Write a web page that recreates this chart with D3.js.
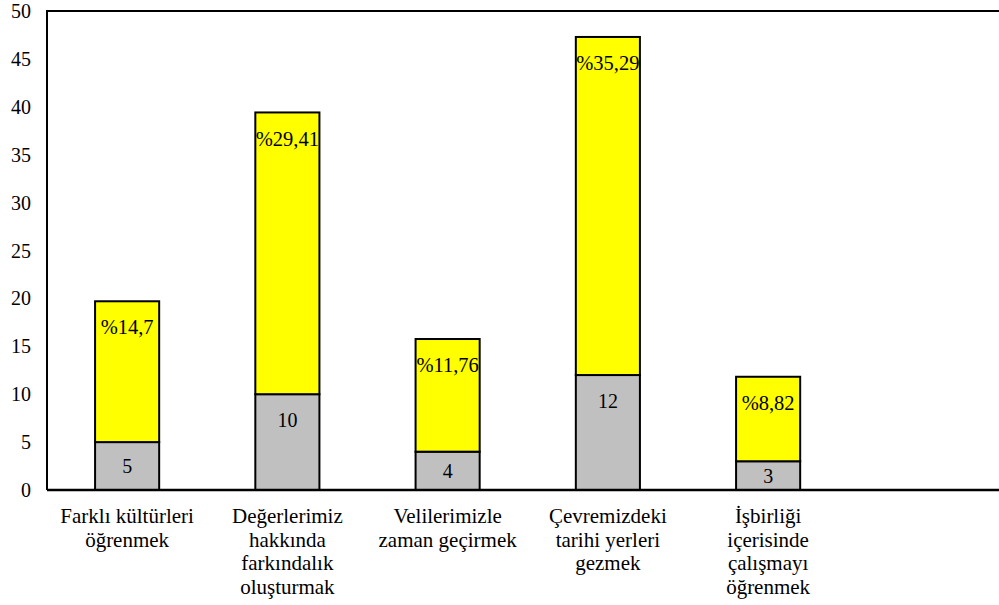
<!DOCTYPE html>
<html>
<head>
<meta charset="utf-8">
<script src="https://cdn.jsdelivr.net/npm/d3@7"></script>
<style>
  body { margin: 0; background: #fff; }
  text { font-family: "Liberation Serif", "Times New Roman", serif; fill: #000; }
</style>
</head>
<body>
<div id="chart"></div>
<script>
var categories = ["Farklı kültürleri öğrenmek", "Değerlerimiz hakkında farkındalık oluşturmak",
  "Velilerimizle zaman geçirmek", "Çevremizdeki tarihi yerleri gezmek", "İşbirliği içerisinde çalışmayı öğrenmek"];
var categoryLines = [
  ["Farklı kültürleri", "öğrenmek"],
  ["Değerlerimiz", "hakkında", "farkındalık", "oluşturmak"],
  ["Velilerimizle", "zaman geçirmek"],
  ["Çevremizdeki", "tarihi yerleri", "gezmek"],
  ["İşbirliği", "içerisinde", "çalışmayı", "öğrenmek"]
];
var counts = [5, 10, 4, 12, 3];
var percents = [14.7, 29.41, 11.76, 35.29, 8.82];
var percentLabels = ["%14,7", "%29,41", "%11,76", "%35,29", "%8,82"];
var yTicks = [0, 5, 10, 15, 20, 25, 30, 35, 40, 45, 50];

var svg = d3.select("#chart").append("svg")
    .attr("width", 999).attr("height", 605);

var plotLeft = 47, plotTop = 11, plotBottom = 490, step = 160.25;

var xScale = d3.scaleBand().domain(categories)
    .range([plotLeft, plotLeft + categories.length * step])
    .paddingInner(0.6).paddingOuter(0.3);
var yScale = d3.scaleLinear().domain([0, 50]).range([plotBottom, plotTop]);

var data = categories.map(function(c, i) {
  return {cat: c, count: counts[i], pct: percents[i], pctLabel: percentLabels[i], lines: categoryLines[i]};
});

// y tick labels
svg.append("g").selectAll("text")
  .data(yTicks)
  .enter().append("text")
    .attr("x", 31)
    .attr("y", function(d) { return yScale(d); })
    .attr("dy", "0.35em")
    .attr("text-anchor", "end")
    .style("font-size", "20px")
    .text(function(d) { return d; });

var bar = svg.selectAll(".bar")
  .data(data)
  .enter().append("g")
    .attr("class", "bar");

bar.append("rect")
    .attr("x", function(d) { return xScale(d.cat); })
    .attr("y", function(d) { return yScale(d.count); })
    .attr("width", xScale.bandwidth())
    .attr("height", function(d) { return yScale(0) - yScale(d.count); })
    .style("fill", "#c0c0c0").style("stroke", "#000").style("stroke-width", 2);

bar.append("rect")
    .attr("x", function(d) { return xScale(d.cat); })
    .attr("y", function(d) { return yScale(d.count + d.pct); })
    .attr("width", xScale.bandwidth())
    .attr("height", function(d) { return yScale(d.count) - yScale(d.count + d.pct); })
    .style("fill", "#ffff00").style("stroke", "#000").style("stroke-width", 2);

function labelY(lo, hi) {
  var t = yScale(hi), mid = (yScale(lo) + yScale(hi)) / 2;
  return Math.min(t + 26, mid);
}

bar.append("text")
    .attr("x", function(d) { return xScale(d.cat) + xScale.bandwidth() / 2; })
    .attr("y", function(d) { return labelY(0, d.count); })
    .attr("dy", "0.35em")
    .attr("text-anchor", "middle")
    .style("font-size", "20px")
    .text(function(d) { return d.count; });

bar.append("text")
    .attr("x", function(d) { return xScale(d.cat) + xScale.bandwidth() / 2; })
    .attr("y", function(d) { return labelY(d.count, d.count + d.pct); })
    .attr("dy", "0.35em")
    .attr("text-anchor", "middle")
    .style("font-size", "20.5px")
    .text(function(d) { return d.pctLabel; });

// category labels
bar.append("text")
    .attr("text-anchor", "middle")
    .style("font-size", "21px")
    .selectAll("tspan")
    .data(function(d) { return d.lines.map(function(l) { return {line: l, x: xScale(d.cat) + xScale.bandwidth() / 2}; }); })
    .enter().append("tspan")
      .attr("x", function(d) { return d.x; })
      .attr("y", function(d, i) { return 523 + i * 23.5; })
      .text(function(d) { return d.line; });

// plot frame
svg.append("path")
    .attr("d", "M" + plotLeft + "," + plotBottom + "V" + plotTop + "H1010")
    .style("fill", "none").style("stroke", "#000").style("stroke-width", 2);
svg.append("line")
    .attr("x1", plotLeft).attr("x2", 1010)
    .attr("y1", plotBottom).attr("y2", plotBottom)
    .style("stroke", "#000").style("stroke-width", 2.5);
</script>
</body>
</html>
